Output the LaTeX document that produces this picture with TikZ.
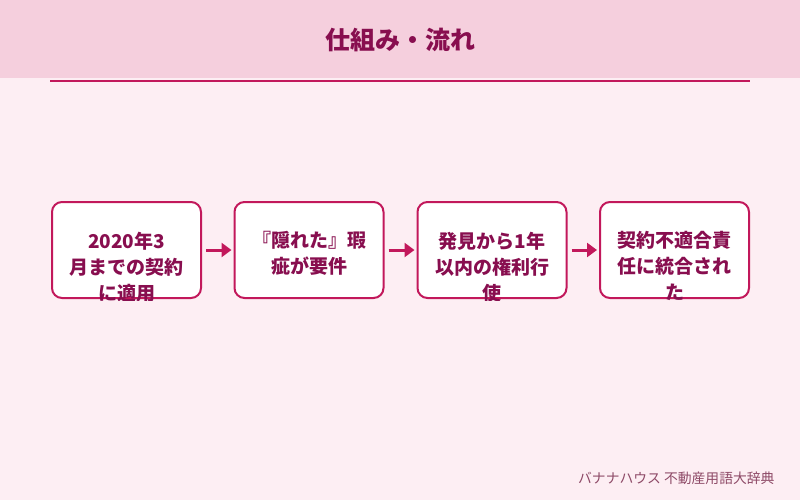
\documentclass[tikz,border=0pt]{standalone}
\usepackage{fontspec}
\setmainfont{Noto Sans CJK JP}
\usepackage{tikz}
\usetikzlibrary{arrows.meta}
\definecolor{pagebg}{HTML}{FDEEF3}
\definecolor{headbg}{HTML}{F5CFDD}
\definecolor{accent}{HTML}{C2185B}
\definecolor{ink}{HTML}{880E4F}
\definecolor{softink}{HTML}{8E4A67}
\tikzset{flowbox/.style = {shape = rectangle, draw = accent, fill = white, line width = 2pt, rounded corners = 10pt, minimum width = 149pt, minimum height = 96pt, inner sep = 0pt}}
\tikzset{boxtext/.style = {anchor = north, text width = 145pt, align = center, inner sep = 0pt, text = ink, font = \fontsize{19pt}{26pt}\selectfont\bfseries}}
\tikzset{flowarrow/.style = {draw = accent, line width = 3pt, -{Triangle[length = 10pt, width = 14pt]}, shorten < = 4pt, shorten > = 2pt}}

\begin{document}
\begin{tikzpicture}[x = 1pt, y = -1pt]
				\useasboundingbox (0, 0) rectangle (800, 500);
				\fill[pagebg] (0, 0) rectangle (800, 500);
				\fill[headbg] (0, 0) rectangle (800, 78);
				\draw[accent, line width = 2pt] (50, 81) -- (750, 81);

				\node[text = ink, font = \fontsize{25pt}{25pt}\selectfont\bfseries] (title) at (400, 40) {仕組み・流れ};

				\node[flowbox] (a) at (126.5, 250) {};
				\node[flowbox] (b) at (309, 250) {};
				\node[flowbox] (c) at (492, 250) {};
				\node[flowbox] (d) at (674.5, 250) {};

				% text runs past the box bottom and is cut there
				\begin{scope}
					\clip[rounded corners = 11pt] ([shift = {(-1pt, -1pt)}]a.south west) rectangle ([shift = {(1pt, 1pt)}]a.north east);
					\node[boxtext] (ta) at ([yshift = -30.5pt]a.north) {2020年3\\月までの契約\\に適用};
				\end{scope}
				\begin{scope}
					\clip[rounded corners = 11pt] ([shift = {(-1pt, -1pt)}]b.south west) rectangle ([shift = {(1pt, 1pt)}]b.north east);
					\node[boxtext] (tb) at ([yshift = -30.5pt]b.north) {『隠れた』瑕\\疵が要件};
				\end{scope}
				\begin{scope}
					\clip[rounded corners = 11pt] ([shift = {(-1pt, -1pt)}]c.south west) rectangle ([shift = {(1pt, 1pt)}]c.north east);
					\node[boxtext] (tc) at ([yshift = -30.5pt]c.north) {発見から1年\\以内の権利行\\使};
				\end{scope}
				\begin{scope}
					\clip[rounded corners = 11pt] ([shift = {(-1pt, -1pt)}]d.south west) rectangle ([shift = {(1pt, 1pt)}]d.north east);
					\node[boxtext] (td) at ([yshift = -30.5pt]d.north) {契約不適合責\\任に統合され\\た};
				\end{scope}

				\draw[flowarrow] (a) to (b);
				\draw[flowarrow] (b) to (c);
				\draw[flowarrow] (c) to (d);

				\node[anchor = east, text = softink, font = \fontsize{13.8pt}{13.8pt}\selectfont] (credit) at (778, 478) {バナナハウス 不動産用語大辞典};
			\end{tikzpicture}
\end{document}
